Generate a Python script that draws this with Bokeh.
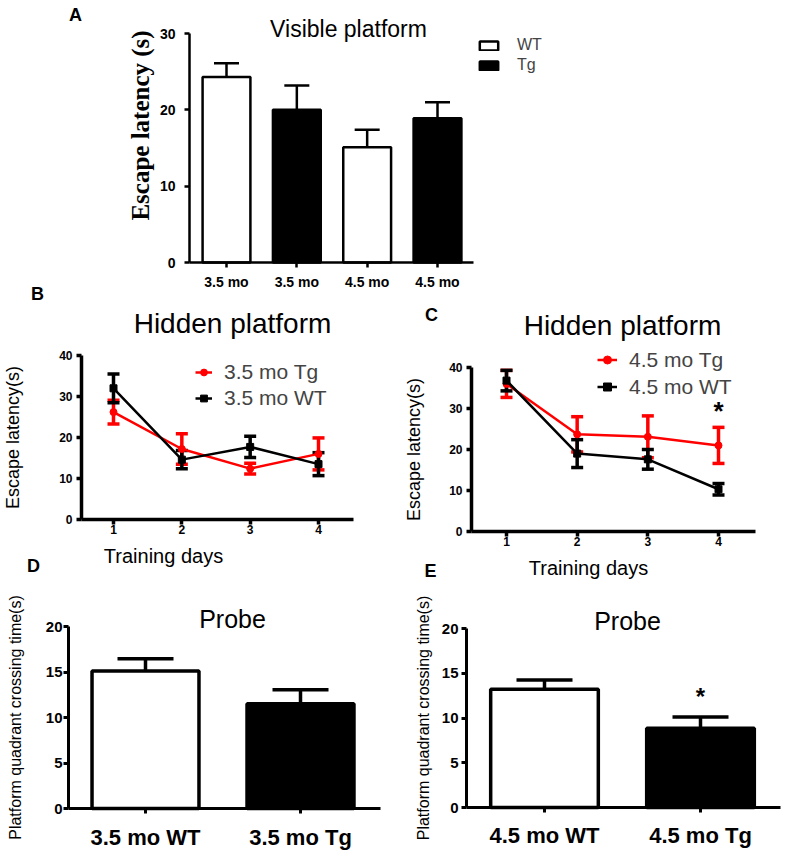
import math
from bokeh.plotting import figure
from bokeh.models import (ColumnDataSource, Whisker, TeeHead, Label, Legend, LegendItem,
                          FixedTicker, CDSView, GroupFilter, Range1d, LinearAxis)
from bokeh.embed import file_html
from bokeh.resources import INLINE

FONT = "Liberation Sans"
SERIF = "Liberation Serif"

# ---------------- data ----------------
# Panel A: visible platform
visible_labels = ["3.5 mo", "3.5 mo", "4.5 mo", "4.5 mo"]
visible_groups = ["WT", "Tg", "WT", "Tg"]
visible_mean = [24.3, 20.0, 15.1, 18.9]
visible_sem = [1.8, 3.2, 2.3, 2.1]
visible_yticks = [0, 10, 20, 30]

# Panel B: hidden platform, 3.5 mo
days = [1, 2, 3, 4]
b_tg_mean = [26.2, 17.2, 12.4, 16.0]
b_tg_sem = [2.9, 3.7, 1.3, 3.9]
b_wt_mean = [32.0, 14.6, 17.7, 13.5]
b_wt_sem = [3.5, 2.2, 2.6, 2.8]
# Panel C: hidden platform, 4.5 mo
c_tg_mean = [36.0, 23.7, 23.1, 21.0]
c_tg_sem = [3.3, 4.3, 5.1, 4.4]
c_wt_mean = [36.8, 19.0, 17.6, 10.3]
c_wt_sem = [2.5, 3.4, 2.4, 1.4]
hidden_yticks = [0, 10, 20, 30, 40]

# Panels D, E: probe
d_labels = ["3.5 mo WT", "3.5 mo Tg"]
d_mean = [15.1, 11.5]
d_sem = [1.35, 1.55]
e_labels = ["4.5 mo WT", "4.5 mo Tg"]
e_mean = [13.2, 8.85]
e_sem = [1.05, 1.25]
probe_yticks = [0, 5, 10, 15, 20]
probe_colors = ["white", "black"]

# ---------------- one page-sized figure; each panel has its own ranges ----------------
W, H = 786, 858
p = figure(width=W, height=H, x_range=Range1d(0, W), y_range=Range1d(0, H),
           output_backend="svg", toolbar_location=None, tools="", min_border=0,
           x_axis_location=None, y_axis_location=None)
p.title.text = ""
p.title.visible = False
p.outline_line_color = None
p.xgrid.visible = False
p.ygrid.visible = False
p.background_fill_color = "white"
p.border_fill_color = "white"


def panel(name, xa, xb, ya, yb, ax_left_px, ax_right_px, ymax):
    """Extra ranges so that data value xa[0] falls on page pixel xa[1], etc."""
    sx = (xb[1] - xa[1]) / (xb[0] - xa[0])
    x0 = xa[0] - xa[1] / sx
    sy = (ya[1] - yb[1]) / (yb[0] - ya[0])
    ytop = ya[0] + ya[1] / sy
    p.extra_x_ranges[name] = Range1d(x0, x0 + W / sx)
    p.extra_y_ranges[name] = Range1d(ytop - H / sy, ytop)
    xl = xa[0] + (ax_left_px - xa[1]) / sx
    xr = xa[0] + (ax_right_px - xa[1]) / sx
    xaxis = LinearAxis(x_range_name=name, y_range_name=name, fixed_location=0,
                       bounds=(xl, xr))
    yaxis = LinearAxis(x_range_name=name, y_range_name=name, fixed_location=xl,
                       bounds=(0, ymax))
    p.add_layout(xaxis, "below")
    p.add_layout(yaxis, "left")
    return xaxis, yaxis


def style_axes(xaxis, yaxis, lw, tick_out, tick_font, xticks, yticks, x_std, y_std):
    for ax in (xaxis, yaxis):
        ax.axis_line_width = lw
        ax.axis_line_color = "black"
        ax.major_tick_line_width = lw
        ax.major_tick_line_color = "black"
        ax.major_tick_in = 0
        ax.major_tick_out = tick_out
        ax.minor_tick_line_color = None
        ax.major_label_text_font = FONT
        ax.major_label_text_font_style = "bold"
        ax.major_label_text_font_size = tick_font
        ax.major_label_text_color = "black"
        ax.axis_label_text_font = FONT
        ax.axis_label_text_font_style = "normal"
        ax.axis_label_text_color = "black"
    xaxis.ticker = FixedTicker(ticks=xticks)
    yaxis.ticker = FixedTicker(ticks=yticks)
    xaxis.major_label_standoff = x_std
    yaxis.major_label_standoff = y_std


def text(x, y, t, size, bold=False, font=FONT, angle=0.0):
    # x, y: page pixels from the top-left corner
    p.add_layout(Label(x=x, y=H - y, text=t, text_font=font, text_font_size=size,
                       angle=angle, text_font_style="bold" if bold else "normal",
                       text_color="black", text_align="center", text_baseline="middle"))


def star(name, x, y, size):
    p.add_layout(Label(x=x, y=y, x_range_name=name, y_range_name=name, text="*",
                       text_font=FONT, text_font_size=size, text_font_style="bold",
                       text_color="black", text_align="center", text_baseline="middle"))


# ---------------- Panel A ----------------
ax_x, ax_y = panel("A", (1, 226), (4, 437), (0, 262), (30, 33), 189, 473, 30)
xa = [i + 1 for i in range(len(visible_mean))]
src_a = ColumnDataSource(dict(
    x=xa, mean=visible_mean,
    upper=[m + s for m, s in zip(visible_mean, visible_sem)],
    group=visible_groups))
r_wt = p.vbar(x="x", top="mean", width=0.68, source=src_a, x_range_name="A", y_range_name="A",
              view=CDSView(filter=GroupFilter(column_name="group", group="WT")),
              fill_color="white", line_color="black", line_width=2.5)
r_tg = p.vbar(x="x", top="mean", width=0.68, source=src_a, x_range_name="A", y_range_name="A",
              view=CDSView(filter=GroupFilter(column_name="group", group="Tg")),
              fill_color="black", line_color="black", line_width=2.5)
p.add_layout(Whisker(source=src_a, base="x", lower="mean", upper="upper",
                     x_range_name="A", y_range_name="A",
                     line_width=2.5, line_color="black", lower_head=None,
                     upper_head=TeeHead(size=25, line_width=2.5, line_color="black")))
style_axes(ax_x, ax_y, 2.5, 5, "14px", xa, visible_yticks, 6, 9)
ax_x.major_label_overrides = {x: lab for x, lab in zip(xa, visible_labels)}
p.add_layout(Legend(items=[LegendItem(label="WT", renderers=[r_wt]),
                           LegendItem(label="Tg", renderers=[r_tg])],
                    location=(477, H - 75), padding=0, margin=0, spacing=0,
                    glyph_width=23, glyph_height=11, label_height=20,
                    label_standoff=17, label_text_font=FONT, label_text_font_size="16px",
                    border_line_color=None, background_fill_alpha=0))
text(348, 28, "Visible platform", "23px")
text(75, 14, "A", "18px", bold=True)
text(140, 125, "Escape latency (s)", "25px", bold=True, font=SERIF, angle=math.pi / 2)


# ---------------- Panels B, C ----------------
def hidden_panel(name, geom, tg_m, tg_s, wt_m, wt_s, tg_lab, wt_lab, leg_px, glyph_w,
                 leg_font, row_h, std):
    xaxis, yaxis = panel(name, *geom)
    st = ColumnDataSource(dict(x=days, m=tg_m, lo=[m - s for m, s in zip(tg_m, tg_s)],
                               hi=[m + s for m, s in zip(tg_m, tg_s)]))
    sw = ColumnDataSource(dict(x=days, m=wt_m, lo=[m - s for m, s in zip(wt_m, wt_s)],
                               hi=[m + s for m, s in zip(wt_m, wt_s)]))
    for s, c in ((st, "#ff0000"), (sw, "black")):
        p.add_layout(Whisker(source=s, base="x", lower="lo", upper="hi", line_width=3.5,
                             x_range_name=name, y_range_name=name, line_color=c,
                             upper_head=TeeHead(size=12, line_width=3.5, line_color=c),
                             lower_head=TeeHead(size=12, line_width=3.5, line_color=c)))
    kw = dict(x_range_name=name, y_range_name=name)
    l_t = p.line("x", "m", source=st, line_color="#ff0000", line_width=2.5, **kw)
    m_t = p.scatter("x", "m", source=st, marker="circle", size=7, color="#ff0000", **kw)
    l_w = p.line("x", "m", source=sw, line_color="black", line_width=2.5, **kw)
    m_w = p.scatter("x", "m", source=sw, marker="square", size=7, color="black", **kw)
    style_axes(xaxis, yaxis, 3.5, 5, "12px", days, hidden_yticks, 0, 4)
    yaxis.axis_label = "Escape latency(s)"
    yaxis.axis_label_text_font_size = "18px"
    yaxis.axis_label_standoff = std
    p.add_layout(Legend(items=[LegendItem(label=tg_lab, renderers=[l_t, m_t]),
                               LegendItem(label=wt_lab, renderers=[l_w, m_w])],
                        location=(leg_px[0], H - leg_px[1]), padding=0, margin=0, spacing=0,
                        glyph_width=glyph_w, glyph_height=row_h, label_height=row_h,
                        label_standoff=12, label_text_font=FONT, label_text_font_size=leg_font,
                        border_line_color=None, background_fill_alpha=0))


hidden_panel("B", ((1, 113), (4, 318), (0, 519), (40, 355), 81, 353, 40),
             b_tg_mean, b_tg_sem, b_wt_mean, b_wt_sem, "3.5 mo Tg", "3.5 mo WT",
             (195, 411), 17, "21px", 26, 33)
text(232, 323, "Hidden platform", "28px")
text(163, 555, "Training days", "20px")
text(37, 293, "B", "18px", bold=True)
text(33, 565, "D", "18px", bold=True)

hidden_panel("C", ((1, 506), (4, 718), (0, 531), (40, 367), 471, 755, 40),
             c_tg_mean, c_tg_sem, c_wt_mean, c_wt_sem, "4.5 mo Tg", "4.5 mo WT",
             (597, 400), 20, "21px", 27, 22)
text(622, 325, "Hidden platform", "28px")
text(588, 567, "Training days", "20px")
text(431, 314, "C", "18px", bold=True)
text(430, 570, "E", "18px", bold=True)
star("C", days[3], c_tg_mean[3] + c_tg_sem[3] + 4, "26px")


# ---------------- Panels D, E ----------------
def probe_panel(name, geom, labels, mean, sem, std, x_std, y_std):
    xaxis, yaxis = panel(name, *geom)
    xs = [i + 1 for i in range(len(mean))]
    s = ColumnDataSource(dict(x=xs, m=mean, up=[a + b for a, b in zip(mean, sem)],
                              c=probe_colors))
    p.vbar(x="x", top="m", width=0.69, source=s, fill_color="c", line_color="black",
           line_width=3.5, x_range_name=name, y_range_name=name)
    p.add_layout(Whisker(source=s, base="x", lower="m", upper="up", line_width=3.5,
                         x_range_name=name, y_range_name=name,
                         line_color="black", lower_head=None,
                         upper_head=TeeHead(size=56, line_width=3.5, line_color="black")))
    style_axes(xaxis, yaxis, 3, 5, "15px", xs, probe_yticks, x_std, y_std)
    xaxis.major_label_overrides = {x: lab for x, lab in zip(xs, labels)}
    xaxis.major_label_text_font_size = "22px"
    yaxis.axis_label = "Platform quadrant crossing time(s)"
    yaxis.axis_label_text_font_size = "16px"
    yaxis.axis_label_standoff = std
    return xs


probe_panel("D", ((1, 145), (2, 300), (0, 808), (20, 626), 68, 380, 20),
            d_labels, d_mean, d_sem, 19, 11, 1)
text(232, 618, "Probe", "25px")

xe = probe_panel("E", ((1, 544), (2, 700), (0, 807), (20, 628), 466, 780, 20),
                 e_labels, e_mean, e_sem, 7, 10, 3)
text(627, 620, "Probe", "25px")
star("E", xe[1], e_mean[1] + e_sem[1] + 2.3, "24px")

open("out.html", "w").write(file_html(p, INLINE))
